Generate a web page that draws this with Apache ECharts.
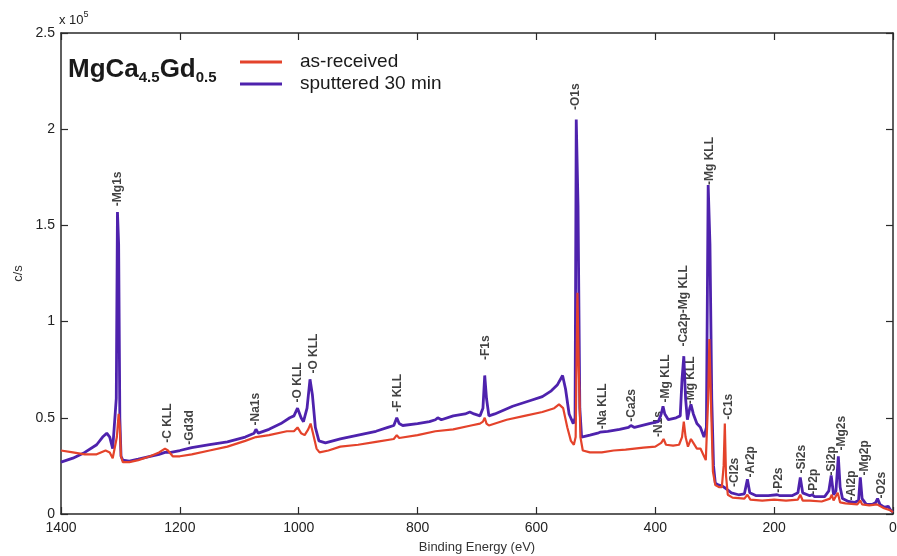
<!DOCTYPE html>
<html>
<head>
<meta charset="utf-8">
<script src="https://cdn.jsdelivr.net/npm/echarts@6/dist/echarts.min.js"></script>
<style>
html,body{margin:0;padding:0;background:#fff;}
#c{width:897px;height:556px;}
</style>
</head>
<body>
<div id="c"></div>
<script>
// Binding energy (eV) and intensity (x 10^5 c/s)
const energyReceived = [1400,1380,1360,1340,1325,1318,1313,1310,1306,1303,1301,1299,1296,1285,1270,1250,1235,1225,1220,1212,1200,1180,1150,1120,1090,1072,1050,1020,1008,1002,996,990,984,980,976,970,965,950,930,900,870,840,835,831,800,770,740,710,695,690,687,684,680,650,620,590,570,562,555,548,542,537,534,531,529,526,522,510,490,470,450,420,400,390,386,382,370,360,355,352,349,345,340,336,330,324,318,315,311,309,306,303,299,293,288,285,283,281,278,270,250,245,240,220,200,180,160,156,152,140,120,106,103,100,93,89,80,60,55,52,40,27,15,5,0];
const countsReceived = [0.33,0.32,0.31,0.31,0.33,0.32,0.29,0.30,0.40,0.52,0.45,0.30,0.27,0.27,0.28,0.30,0.32,0.34,0.33,0.30,0.30,0.31,0.33,0.35,0.38,0.40,0.41,0.43,0.43,0.45,0.42,0.41,0.44,0.47,0.42,0.34,0.32,0.33,0.35,0.36,0.375,0.39,0.41,0.395,0.41,0.43,0.44,0.46,0.47,0.48,0.50,0.47,0.46,0.49,0.51,0.53,0.55,0.57,0.55,0.45,0.38,0.36,0.40,1.15,0.80,0.40,0.33,0.32,0.32,0.33,0.335,0.345,0.35,0.37,0.39,0.36,0.355,0.36,0.40,0.48,0.40,0.35,0.39,0.37,0.34,0.34,0.30,0.28,0.60,0.91,0.55,0.22,0.15,0.14,0.14,0.25,0.47,0.20,0.10,0.085,0.08,0.10,0.075,0.07,0.075,0.07,0.075,0.10,0.07,0.07,0.065,0.08,0.10,0.07,0.11,0.06,0.055,0.05,0.07,0.05,0.045,0.05,0.03,0.02,0.01];

const energySputtered = [1400,1380,1360,1340,1330,1323,1318,1313,1310,1307,1305,1303,1301,1299,1296,1285,1270,1250,1235,1225,1215,1200,1180,1150,1120,1090,1075,1072,1068,1050,1030,1015,1008,1002,996,992,986,981,977,972,966,955,930,900,870,850,840,835,831,825,800,780,770,766,760,740,720,712,705,695,690,687,684,680,670,640,610,590,575,565,556,551,545,538,535,533,530,527,524,510,497,493,480,460,445,441,435,410,395,390,387,384,378,365,358,355,352,349,346,342,340,336,330,324,318,314,311,308,305,302,299,293,287,284,280,272,260,250,245,241,230,210,195,190,170,160,156,152,140,136,132,115,108,104,100,96,92,89,85,75,65,58,55,52,45,35,29,26,22,15,8,4,0];
const countsSputtered = [0.27,0.29,0.32,0.36,0.40,0.42,0.40,0.34,0.33,0.60,1.57,1.40,0.50,0.30,0.28,0.275,0.285,0.30,0.31,0.32,0.32,0.33,0.345,0.36,0.375,0.40,0.42,0.44,0.42,0.44,0.47,0.50,0.51,0.55,0.50,0.48,0.55,0.70,0.62,0.45,0.38,0.37,0.39,0.41,0.43,0.45,0.46,0.50,0.47,0.46,0.47,0.48,0.49,0.50,0.49,0.51,0.52,0.53,0.52,0.51,0.55,0.72,0.60,0.51,0.52,0.56,0.59,0.61,0.64,0.67,0.72,0.65,0.52,0.47,0.50,2.05,1.60,0.55,0.40,0.41,0.42,0.425,0.43,0.44,0.45,0.46,0.45,0.47,0.48,0.52,0.56,0.52,0.49,0.50,0.51,0.70,0.82,0.60,0.49,0.55,0.57,0.52,0.47,0.45,0.40,0.45,1.71,1.40,0.60,0.25,0.16,0.15,0.145,0.15,0.13,0.11,0.10,0.105,0.18,0.11,0.095,0.095,0.10,0.095,0.095,0.11,0.19,0.11,0.095,0.10,0.09,0.09,0.12,0.20,0.10,0.12,0.30,0.14,0.08,0.065,0.06,0.07,0.19,0.08,0.05,0.05,0.06,0.08,0.05,0.035,0.04,0.02,0.01];

// Peak annotations
const peakNames = ['-Mg1s','-C KLL','-Gd3d','-Na1s','-O KLL','-O KLL','-F KLL','-F1s','-O1s','-Na KLL','-Ca2s','-N1s','-Mg KLL','-Ca2p-Mg KLL','-Mg KLL','-Mg KLL','-C1s','-Cl2s','-Ar2p','-P2s','-Si2s','-P2p','-Si2p','-Mg2s','-Al2p','-Mg2p','-O2s'];
const peakEnergies = [1304,1220,1183,1072,1002,975,834,686,534,489,439,395,382,353,341,308,277,267,240,192,153,133,104,86,69,47,19];
const peakLabelHeights = [1.60,0.37,0.36,0.46,0.58,0.73,0.53,0.80,2.10,0.44,0.48,0.40,0.58,0.87,0.57,1.71,0.49,0.14,0.19,0.11,0.21,0.10,0.20,0.33,0.07,0.20,0.08];

const xTicks = [0,200,400,600,800,1000,1200,1400];
const yTicks = [0,0.5,1,1.5,2,2.5];

const seriesNames = ['as-received','sputtered 30 min'];
const RED = '#e4432b';
const BLUE = '#4e22ad';

const zip = (a,b) => a.map((v,i)=>[v,b[i]]);

const chart = echarts.init(document.getElementById('c'));
const FONT = 'Liberation Sans, Arial, sans-serif';
const axisCol = '#2a2a2a';
const tick = {show: true, inside: true, length: 7, lineStyle: {color: axisCol, width: 1.2}};
const line = {show: true, onZero: false, lineStyle: {color: axisCol, width: 1.5}};

chart.setOption({
  animation: false,
  textStyle: {fontFamily: FONT},
  grid: {left: 61, right: 4, top: 33, bottom: 42, containLabel: false, outerBoundsMode: 'none'},
  title: {
    left: 63, top: 50,
    text: '{b|MgCa}{s|4.5}{b|Gd}{s|0.5}',
    textStyle: {
      rich: {
        b: {fontFamily: FONT, fontSize: 26, fontWeight: 'bold', color: '#1a1a1a', lineHeight: 30, verticalAlign: 'middle'},
        s: {fontFamily: FONT, fontSize: 15, fontWeight: 'bold', color: '#1a1a1a', lineHeight: 6, verticalAlign: 'bottom'}
      }
    }
  },
  legend: {
    left: 235, top: 47, orient: 'vertical',
    data: seriesNames,
    icon: 'rect', itemWidth: 42, itemHeight: 3, itemGap: 2,
    textStyle: {fontFamily: FONT, fontSize: 19, color: '#1a1a1a', lineHeight: 20, padding: [0,0,0,13]}
  },
  graphic: [{
    type: 'text', left: 59, top: 10,
    style: {
      text: '{a|x 10}{p|5}',
      rich: {
        a: {fontFamily: FONT, fontSize: 13, fill: '#222', lineHeight: 15, verticalAlign: 'bottom'},
        p: {fontFamily: FONT, fontSize: 9, fill: '#222', lineHeight: 17, verticalAlign: 'top'}
      }
    }
  }],
  xAxis: [{
    type: 'value', min: 0, max: 1400, interval: 200, inverse: true,
    name: 'Binding Energy (eV)', nameLocation: 'middle', nameGap: 27,
    nameTextStyle: {fontFamily: FONT, fontSize: 13, color: '#333'},
    axisLine: line, axisTick: tick,
    axisLabel: {fontSize: 14, color: '#222', margin: 7, formatter: v => String(v)},
    splitLine: {show: false}
  },{
    type: 'value', position: 'top', min: 0, max: 1400, interval: 200, inverse: true,
    axisLine: line, axisTick: tick,
    axisLabel: {show: false},
    splitLine: {show: false}
  }],
  yAxis: [{
    type: 'value', min: 0, max: 2.5, interval: 0.5,
    name: 'c/s', nameLocation: 'middle', nameGap: 29,
    nameTextStyle: {fontFamily: FONT, fontSize: 13, color: '#333'},
    axisLine: line, axisTick: tick,
    axisLabel: {fontSize: 14, color: '#222', margin: 6},
    splitLine: {show: false}
  },{
    type: 'value', position: 'right', min: 0, max: 2.5, interval: 0.5,
    axisLine: line, axisTick: tick,
    axisLabel: {show: false},
    splitLine: {show: false}
  }],
  series: [{
    name: seriesNames[1], type: 'line', z: 3,
    data: zip(energySputtered, countsSputtered),
    showSymbol: false, symbol: 'none',
    lineStyle: {color: BLUE, width: 2.8},
    itemStyle: {color: BLUE}
  },{
    name: seriesNames[0], type: 'line', z: 4,
    data: zip(energyReceived, countsReceived),
    showSymbol: false, symbol: 'none',
    lineStyle: {color: RED, width: 2.2},
    itemStyle: {color: RED}
  },{
    type: 'scatter', z: 1, silent: true,
    symbolSize: 0,
    data: peakEnergies.map((e,i)=>({name: peakNames[i], value: [e, peakLabelHeights[i]]})),
    itemStyle: {color: 'rgba(0,0,0,0)'},
    label: {
      show: true, position: 'inside', formatter: '{b}', rotate: 90,
      align: 'left', verticalAlign: 'middle',
      fontFamily: FONT, fontSize: 12, fontWeight: 'bold', color: '#111'
    }
  }]
});
</script>
</body>
</html>
